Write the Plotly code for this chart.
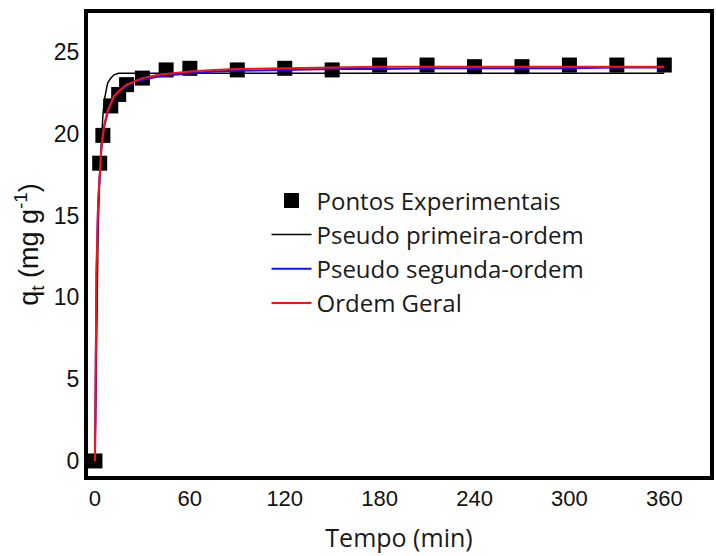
import plotly.graph_objects as go

# Experimental adsorption kinetics (time in min, q_t in mg/g)
t_exp = [0, 3, 5, 10, 15, 20, 30, 45, 60, 90, 120, 150, 180, 210, 240, 270, 300, 330, 360]
q_exp = [0.0, 18.2, 19.9, 21.7, 22.4, 23.0, 23.4, 23.9, 24.0, 23.9, 24.0, 23.9, 24.2, 24.2, 24.1, 24.1, 24.2, 24.2, 24.2]

# Fitted model curves, read along the time axis
t_fit = [0, 1, 2, 3, 4, 5, 6, 8, 10, 12, 15, 20, 25, 30, 40, 50, 60, 75, 90, 120, 150, 180, 210, 240, 270, 300, 330, 360]
q_pfo = [0.0, 8.6, 14.1, 17.5, 19.8, 21.1, 22.1, 23.1, 23.4, 23.6, 23.7, 23.7, 23.7, 23.7, 23.7, 23.7, 23.7, 23.7,
         23.7, 23.7, 23.7, 23.7, 23.7, 23.7, 23.7, 23.7, 23.7, 23.7]
q_pso = [0.0, 11.6, 15.7, 17.7, 19.0, 19.9, 20.5, 21.3, 21.8, 22.2, 22.6, 22.9, 23.2, 23.3, 23.5, 23.6, 23.7, 23.8,
         23.85, 23.9, 23.95, 23.95, 24.0, 24.0, 24.0, 24.0, 24.05, 24.05]
q_go = [0.0, 11.7, 15.8, 17.8, 19.1, 19.9, 20.6, 21.4, 21.9, 22.3, 22.6, 23.0, 23.2, 23.4, 23.6, 23.7, 23.8, 23.9,
        23.95, 24.0, 24.05, 24.1, 24.1, 24.1, 24.1, 24.1, 24.1, 24.1]

fig = go.Figure()
fig.add_trace(go.Scatter(x=t_exp, y=q_exp, mode="markers", name="Pontos Experimentais",
                         marker=dict(symbol="square", size=15, color="black")))
fig.add_trace(go.Scatter(x=t_fit, y=q_pfo, mode="lines", name="Pseudo primeira-ordem",
                         line=dict(color="black", width=1.5)))
fig.add_trace(go.Scatter(x=t_fit, y=q_pso, mode="lines", name="Pseudo segunda-ordem",
                         line=dict(color="#1010ff", width=2)))
fig.add_trace(go.Scatter(x=t_fit, y=q_go, mode="lines", name="Ordem Geral",
                         line=dict(color="#ff1010", width=2)))

fig.update_layout(
    width=716, height=556,
    margin=dict(l=88, r=2, t=13, b=80),
    plot_bgcolor="white", paper_bgcolor="white",
    showlegend=True,
    legend=dict(x=0.287, y=0.643, xanchor="left", yanchor="top",
                bgcolor="rgba(0,0,0,0)", itemwidth=40,
                font=dict(family="Open Sans", size=24, color="#1a1a1a")),
    xaxis=dict(range=[-4.4, 388.9], tickvals=[0, 60, 120, 180, 240, 300, 360],
               showgrid=False, zeroline=False, showline=True, linecolor="black", linewidth=4,
               mirror=True, ticks="",
               tickfont=dict(family="Liberation Sans Narrow, Arial Narrow, Arial", size=22, color="#111"),
               title=dict(text="Tempo (min)", standoff=20,
                          font=dict(family="Open Sans", size=25, color="#1a1a1a"))),
    yaxis=dict(range=[-0.92, 27.38], tickvals=[0, 5, 10, 15, 20, 25],
               showgrid=False, zeroline=False, showline=True, linecolor="black", linewidth=4,
               mirror=True, ticks="",
               tickfont=dict(family="Arial", size=23, color="#111"),
               title=dict(text="q<sub>t</sub> (mg g<sup>-1</sup>)", standoff=8,
                          font=dict(family="Arial", size=27, color="#111"))),
)

fig.write_html("out.html")
